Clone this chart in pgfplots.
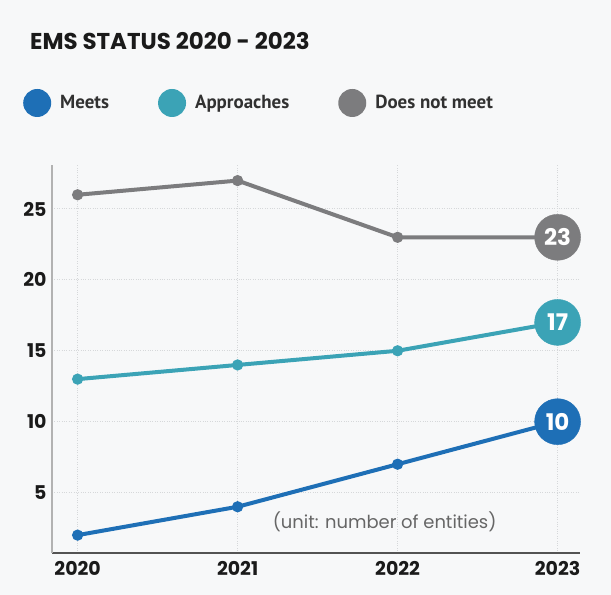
\documentclass[border=0pt]{standalone}
\usepackage{fontspec}
\setmainfont{Poppins}
\newfontfamily\legfont{PT Sans}
\usepackage{pgfplots}
\pgfplotsset{compat=1.18}

\definecolor{bg}{HTML}{F7F8F9}
\definecolor{meets}{HTML}{1E6FB6}
\definecolor{appr}{HTML}{3BA3B6}
\definecolor{dnm}{HTML}{7C7C7E}
\definecolor{txt}{HTML}{1A1A1A}
\definecolor{gridc}{HTML}{D6D8DA}

\begin{document}
\begin{tikzpicture}[x=1bp,y=1bp]
\fill[bg] (0,0) rectangle (611,595);
\node[anchor=base west, inner sep=0, text=txt,
      font=\fontsize{23}{27}\selectfont\bfseries] at (30,545) {EMS STATUS 2020 - 2023};
\begin{axis}[
    at={(52bp,42bp)}, anchor=south west,
    scale only axis, width=528bp, height=388bp,
    xmin=2019.84, xmax=2023.14,
    ymin=0.74, ymax=28.1,
    axis x line*=bottom, axis y line*=left,
    x axis line style={draw=txt!75, line width=1.5bp},
    y axis line style={draw=gray!60, line width=2.2bp},
    xtick={2020,2021,2022,2023},
    xticklabels={2020,2021,2022,2023},
    ytick={5,10,15,20,25},
    major tick length=0pt,
    grid=major,
    major grid style={gridc, dotted, line width=1bp},
    /pgf/number format/assume math mode=true,
    tick label style={font=\fontsize{19}{22}\selectfont\bfseries, text=txt},
    xticklabel style={yshift=-5bp},
    yticklabel style={xshift=-2bp},
    clip=false,
    legend columns=3,
    legend cell align=left,
    legend style={at={(axis description cs:0,1)}, anchor=west,
        xshift=-29bp, yshift=62bp, draw=none, fill=none, inner sep=0pt,
        font=\legfont\bfseries\fontsize{19}{22}\selectfont, text=txt!90,
        /tikz/every even column/.append style={column sep=47bp}},
    legend image code/.code={
        \path[draw=none, fill=none] (0,-14bp) rectangle (35bp,14bp);
        \fill[draw=none] (14bp,0) circle (14bp);},
  ]
  \addplot[meets, line width=4bp, mark=*, mark size=3.5bp]
    coordinates {(2020,2) (2021,4) (2022,7) (2023,10)};
  \addlegendentry{Meets}
  \addplot[appr, line width=4bp, mark=*, mark size=3.5bp]
    coordinates {(2020,13) (2021,14) (2022,15) (2023,17)};
  \addlegendentry{Approaches}
  \addplot[dnm, line width=4bp, mark=*, mark size=3.5bp]
    coordinates {(2020,26) (2021,27) (2022,23) (2023,23)};
  \addlegendentry{Does not meet}

  % end labels
  \pgfplotsset{endlab/.style={forget plot, only marks, mark=*, mark size=23bp,
      nodes near coords, point meta=explicit symbolic,
      every node near coord/.style={anchor=center, text=white,
        font=\fontsize{23}{25}\selectfont\bfseries}}}
  \addplot[endlab, meets] coordinates {(2023,10) [10]};
  \addplot[endlab, appr] coordinates {(2023,17) [17]};
  \addplot[endlab, dnm] coordinates {(2023,23) [23]};

  \node[anchor=east, text=black!60, font=\fontsize{18}{20}\selectfont]
    at (axis cs:2022.64,2.95) {(unit: number of entities)};
\end{axis}
\end{tikzpicture}
\end{document}
